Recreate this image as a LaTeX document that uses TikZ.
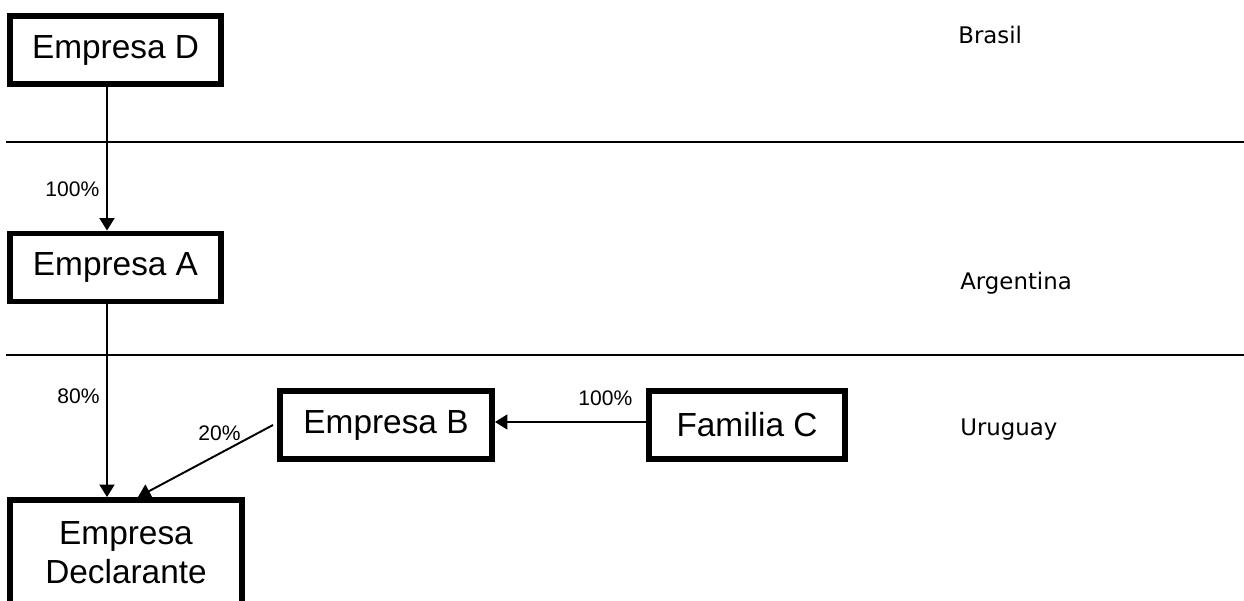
\documentclass[tikz,border=0pt]{standalone}
\usepackage{fontspec}
\setmainfont{Liberation Sans}
\newfontfamily\landfont{DejaVu Sans}
\usetikzlibrary{arrows.meta}

\begin{document}
\begin{tikzpicture}[x=0.02cm,y=-0.02cm,
    box/.style={draw,line width=3.4pt,inner sep=0pt,minimum height=1.36cm,font=\fontsize{19}{22}\selectfont},
    conn/.style={line width=1.1pt,-{Triangle[length=0.25cm,width=0.3cm]}},
    pct/.style={anchor=base west,inner sep=0pt,font=\fontsize{12}{14}\selectfont},
    land/.style={anchor=base west,inner sep=0pt,font=\landfont\fontsize{13}{15}\selectfont}]
  \useasboundingbox (0,0) rectangle (1244,601);
  \draw[line width=1.2pt] (6,142) -- (1244,142);
  \draw[line width=1.2pt] (6,355) -- (1244,355);
  \node[box,minimum width=4.22cm] (D) at (115.5,50) {Empresa D};
  \node[box,minimum width=4.22cm] (A) at (115.5,267.5) {Empresa A};
  \node[box,minimum width=4.24cm] (B) at (386,425) {Empresa B};
  \node[box,minimum width=3.92cm] (C) at (747,425) {Familia C};
  \node[box,minimum width=4.64cm,minimum height=2.12cm,align=center] (decl) at (126,553) {Empresa\\Declarante};
  \draw[conn] ([xshift=-0.17cm]D.south) -- ([xshift=-0.17cm]D.south |- A.north);
  \draw[conn] ([xshift=-0.17cm]A.south) -- ([xshift=-0.17cm]A.south |- decl.north);
  \draw[conn] ([xshift=-0.08cm]B.west) -- ([xshift=0.24cm]decl.north);
  \draw[conn] ([yshift=0.06cm]C.west) -- ([yshift=0.06cm]C.west -| B.east);
  \node[pct] (pDA) at (45,197) {100\%};
  \node[pct] (pAE) at (57,403) {80\%};
  \node[pct] (pBE) at (198,440) {20\%};
  \node[pct] (pCB) at (578,405) {100\%};
  \node[land] (br) at (958,44) {Brasil};
  \node[land] (ar) at (960,290) {Argentina};
  \node[land] (uy) at (960,435) {Uruguay};
\end{tikzpicture}
\end{document}
